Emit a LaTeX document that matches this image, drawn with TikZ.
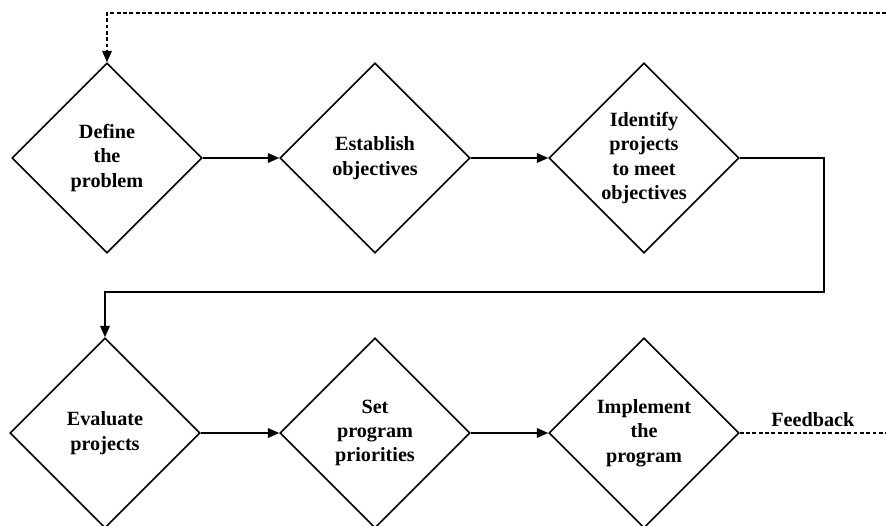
\documentclass[tikz,border=0pt]{standalone}
\usepackage{fontspec}
\setmainfont{Liberation Serif}
\usetikzlibrary{shapes.geometric,arrows.meta}

\tikzset{
  stage/.style={diamond, draw, line width=0.9pt, minimum width=3.8cm, minimum height=3.8cm,
    inner sep=0pt, align=center, font=\bfseries\fontsize{11.5}{13.9}\selectfont},
  flow/.style={line width=0.9pt, ->},
  fb/.style={line width=0.9pt, dash pattern=on 2.2pt off 1.4pt},
}

\begin{document}
\begin{tikzpicture}[x=0.02cm, y=-0.02cm, >={Triangle[length=6.5pt,width=5.5pt]}]
    \useasboundingbox (0,0) rectangle (886,525);
    % Top row
    \node[stage] (define) at (107,158) {Define\\the\\problem};
    \node[stage] (objectives) at (375,158) {Establish\\objectives};
    \node[stage] (identify) at (644,158) {Identify\\projects\\to meet\\objectives};
    % Bottom row
    \node[stage] (evaluate) at (105,433) {Evaluate\\projects};
    \node[stage] (priorities) at (375,433) {Set\\program\\priorities};
    \node[stage] (implement) at (644,433) {Implement\\the\\program};
    % Connectors
    \draw[flow] (define) -- (objectives);
    \draw[flow] (objectives) -- (identify);
    \coordinate (turn) at (824,292);
    \draw[flow] (identify.east) -| (turn) -| (evaluate.north);
    \draw[flow] (evaluate) -- (priorities);
    \draw[flow] (priorities) -- (implement);
    % Feedback loop
    \coordinate (fbout) at (886,433);
    \coordinate (fbin) at (886,13);
    \draw[fb] (implement.east) -- node[above, font=\bfseries\fontsize{11.5}{13.9}\selectfont] {Feedback} (fbout);
    \draw[fb, ->] (fbin) -| (define.north);
\end{tikzpicture}
\end{document}
